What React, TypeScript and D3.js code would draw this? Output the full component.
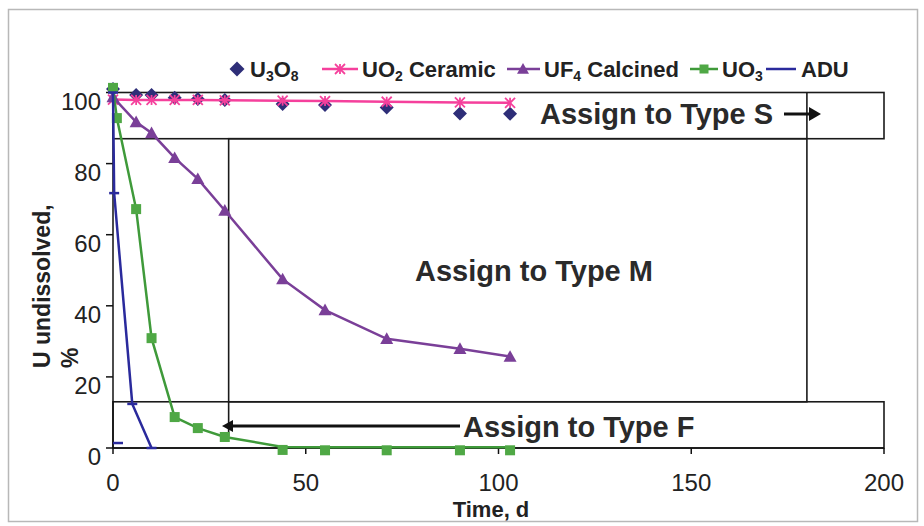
import React from "react";
import * as d3 from "d3";

// ---- data ----
const days = [0, 6, 10, 16, 22, 29, 44, 55, 71, 90, 103];
const u3o8 = [101.0, 99.3, 99.3, 98.5, 98.2, 97.9, 96.8, 96.5, 95.8, 94.1, 94.0];
const uo2Ceramic = [98.0, 97.9, 97.9, 97.9, 97.9, 97.8, 97.7, 97.6, 97.4, 97.2, 97.1];
const uf4Calcined = [98.7, 91.7, 88.6, 81.6, 75.7, 66.8, 47.5, 38.8, 30.7, 27.9, 25.7];
const uo3Days = [0, 1, 6, 10, 16, 22, 29, 44, 55, 71, 90, 103];
const uo3 = [101.3, 92.8, 67.2, 30.9, 8.7, 5.6, 3.1, 0.3, 0.2, 0.2, 0.2, 0.2];
const aduDays = [0, 0.3, 5, 10];
const adu = [100, 71.7, 12.4, 0];
const aduStrayDays = [1.3];
const aduStray = [1.4];

const xTicks = [0, 50, 100, 150, 200];
const yTicks = [0, 20, 40, 60, 80, 100];

// type boundaries (days / % undissolved)
const typeDays = [30, 180];
const typePct = [13, 87];

const W = 924;
const H = 526;

const C = {
  u3o8: "#2e2e78",
  uo2: "#f5409c",
  uf4: "#7a3f98",
  uo3: "#3f9a3a",
  uo3m: "#4fa845",
  adu: "#2a2a9c",
  box: "#1a1a1a",
};

const FONT = "'Liberation Sans', Arial, Helvetica, sans-serif";

function Diamond({ x, y, s = 7, fill }: any) {
  return <path d={`M${x},${y - s}L${x + s},${y}L${x},${y + s}L${x - s},${y}Z`} fill={fill} />;
}
function Tri({ x, y, s = 7, fill }: any) {
  return <path d={`M${x},${y - s}L${x + s},${y + s * 0.8}L${x - s},${y + s * 0.8}Z`} fill={fill} />;
}
function Sq({ x, y, s = 5.5, fill }: any) {
  return <rect x={x - s} y={y - s} width={2 * s} height={2 * s} fill={fill} />;
}
function Star({ x, y, s = 6, stroke }: any) {
  return (
    <g stroke={stroke} strokeWidth={1.8}>
      <line x1={x - s} y1={y - s} x2={x + s} y2={y + s} />
      <line x1={x - s} y1={y + s} x2={x + s} y2={y - s} />
      <line x1={x} y1={y - s} x2={x} y2={y + s} />
    </g>
  );
}
function Dash({ x, y, stroke }: any) {
  return <line x1={x - 5} y1={y} x2={x + 5} y2={y} stroke={stroke} strokeWidth={2.5} />;
}

export default function App() {
  const x = d3.scaleLinear().domain([0, 200]).range([113, 884]);
  const y = d3.scaleLinear().domain([0, 100]).range([448, 92.5]);

  const line = (xs: number[], ys: number[]) =>
    d3
      .line<number>()
      .x((_, i) => x(xs[i]))
      .y((d) => y(d))(ys) as string;

  const ly = 69;
  const sub = 14;

  return (
    <svg
      width={W}
      height={H}
      style={{ position: "absolute", left: 0, top: 0, background: "#fff" }}
      fontFamily={FONT}
    >
      <rect x={8.5} y={9.5} width={909} height={512} fill="#fff" stroke="#b8b8b8" strokeWidth={1.5} />

      {/* legend */}
      <g fontSize={22} fontWeight="bold" fill="#222">
        <Diamond x={237} y={ly} s={7.5} fill={C.u3o8} />
        <text x={250} y={ly + 8}>
          U<tspan fontSize={sub} dy={4}>3</tspan>
          <tspan dy={-4}>O</tspan>
          <tspan fontSize={sub} dy={4}>8</tspan>
        </text>
        <line x1={322} x2={358} y1={ly} y2={ly} stroke={C.uo2} strokeWidth={2.5} />
        <Star x={340} y={ly} s={5} stroke={C.uo2} />
        <text x={362} y={ly + 8}>
          UO<tspan fontSize={sub} dy={4}>2</tspan>
          <tspan dy={-4}> Ceramic</tspan>
        </text>
        <line x1={507} x2={540} y1={ly} y2={ly} stroke={C.uf4} strokeWidth={2.5} />
        <Tri x={523} y={ly} s={6} fill={C.uf4} />
        <text x={544} y={ly + 8}>
          UF<tspan fontSize={sub} dy={4}>4</tspan>
          <tspan dy={-4}> Calcined</tspan>
        </text>
        <line x1={690} x2={718} y1={ly} y2={ly} stroke={C.uo3} strokeWidth={2.5} />
        <Sq x={704} y={ly} s={4.5} fill={C.uo3m} />
        <text x={722} y={ly + 8}>
          UO<tspan fontSize={sub} dy={4}>3</tspan>
        </text>
        <line x1={766} x2={796} y1={ly} y2={ly} stroke={C.adu} strokeWidth={2.5} />
        <text x={801} y={ly + 8}>ADU</text>
      </g>

      {/* type boxes */}
      <g fill="none" stroke={C.box} strokeWidth={1.6}>
        <rect x={x(0)} y={y(100)} width={x(200) - x(0)} height={y(typePct[1]) - y(100)} />
        <line x1={x(typeDays[1])} x2={x(typeDays[1])} y1={y(100)} y2={y(typePct[1])} />
        <rect
          x={x(typeDays[0])}
          y={y(typePct[1])}
          width={x(typeDays[1]) - x(typeDays[0])}
          height={y(typePct[0]) - y(typePct[1])}
        />
        <line x1={x(typeDays[0])} x2={x(typeDays[0])} y1={y(typePct[0])} y2={y(3.3)} />
        <rect x={x(0)} y={y(typePct[0])} width={x(200) - x(0)} height={y(0) - y(typePct[0])} />
      </g>

      {/* axes */}
      <g stroke="#111" strokeWidth={1.5}>
        <line x1={x(0)} x2={x(0)} y1={y(0)} y2={y(100)} />
        <line x1={x(0)} x2={x(200)} y1={y(0)} y2={y(0)} />
        {yTicks.map((t) => (
          <line key={"yt" + t} x1={x(0) - 7} x2={x(0)} y1={y(t)} y2={y(t)} />
        ))}
        {xTicks.map((t) => (
          <line key={"xt" + t} x1={x(t)} x2={x(t)} y1={y(0)} y2={y(0) + 6} />
        ))}
      </g>
      <g fontSize={24} fill="#222">
        {yTicks.map((t) => (
          <text key={"yl" + t} x={101} y={y(t) + 17} textAnchor="end">
            {t}
          </text>
        ))}
        {xTicks.map((t) => (
          <text key={"xl" + t} x={x(t)} y={491} textAnchor="middle">
            {t}
          </text>
        ))}
      </g>
      <text x={491} y={517} fontSize={22} fontWeight="bold" fill="#222" textAnchor="middle">
        Time, d
      </text>
      <g fontSize={23} fontWeight="bold" fill="#222">
        <text transform="translate(50,368) rotate(-90)">U undissolved,</text>
        <text transform="translate(78,368) rotate(-90)">%</text>
      </g>

      {/* annotations */}
      <g fontSize={29} fontWeight="bold" fill="#2a2a2a">
        <text x={540} y={124}>Assign to Type S</text>
        <text x={534} y={281} textAnchor="middle">Assign to Type M</text>
        <text x={463} y={437}>Assign to Type F</text>
      </g>
      <g stroke="#111" strokeWidth={3}>
        <line x1={784} x2={810} y1={114} y2={114} />
        <line x1={460} x2={232} y1={426} y2={426} />
      </g>
      <path d="M809,107L821,114L809,121Z" fill="#111" />
      <path d="M233,420L222,426L233,432Z" fill="#111" />

      {/* series */}
      <g>
        {days.map((d, i) => (
          <Diamond key={"d" + i} x={x(d)} y={y(u3o8[i])} s={7} fill={C.u3o8} />
        ))}
      </g>
      <path d={line(days, uo2Ceramic)} fill="none" stroke={C.uo2} strokeWidth={2.5} />
      {days.map((d, i) => (
        <Star key={"s" + i} x={x(d)} y={y(uo2Ceramic[i])} s={5} stroke={C.uo2} />
      ))}
      <path d={line(days, uf4Calcined)} fill="none" stroke={C.uf4} strokeWidth={2.5} />
      {days.map((d, i) => (
        <Tri key={"t" + i} x={x(d)} y={y(uf4Calcined[i])} s={6.5} fill={C.uf4} />
      ))}
      <path d={line(uo3Days, uo3)} fill="none" stroke={C.uo3} strokeWidth={2.5} />
      {uo3Days.map((d, i) => (
        <Sq key={"q" + i} x={x(d)} y={y(uo3[i]) + (uo3[i] < 1 ? 3 : 0)} s={5} fill={C.uo3m} />
      ))}
      <path d={line(aduDays, adu)} fill="none" stroke={C.adu} strokeWidth={2.5} />
      {aduDays.map((d, i) => (
        <Dash key={"a" + i} x={x(d)} y={y(adu[i])} stroke={C.adu} />
      ))}
      {aduStrayDays.map((d, i) => (
        <Dash key={"as" + i} x={x(d)} y={y(aduStray[i])} stroke={C.adu} />
      ))}
    </svg>
  );
}
